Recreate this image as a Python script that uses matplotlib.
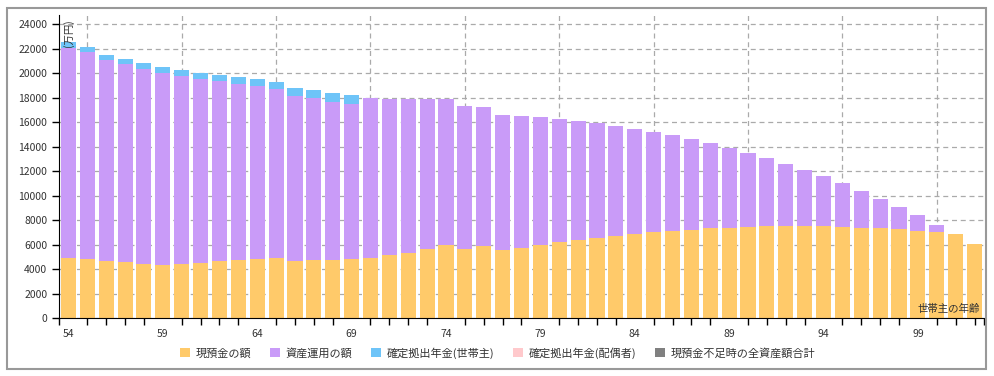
import matplotlib.pyplot as plt
import numpy as np
from matplotlib.patches import Rectangle

plt.rcParams['font.family'] = ['Noto Sans CJK JP', 'DejaVu Sans']

# Data (万円) by age of household head
ages = list(range(54, 103))
cash = [4950, 4870, 4650, 4570, 4460, 4350, 4460, 4540, 4680, 4790,
        4870, 4950, 4710, 4790, 4790, 4840, 4950, 5170, 5360, 5660,
        6010, 5660, 5900, 5580, 5760, 6010, 6230, 6390, 6580, 6720,
        6880, 7050, 7130, 7210, 7370, 7370, 7450, 7540, 7540, 7540,
        7540, 7450, 7370, 7370, 7270, 7130, 7050, 6880, 6070]
invest = [17170, 16870, 16440, 16190, 15870, 15650, 15320, 14990, 14670, 14340,
          14070, 13770, 13470, 13200, 12900, 12650, 13030, 12760, 12580, 12270,
          11890, 11670, 11350, 11020, 10750, 10420, 10040, 9710, 9390, 8980,
          8570, 8160, 7840, 7430, 6940, 6560, 6040, 5550, 5060, 4570,
          4080, 3590, 3020, 2370, 1820, 1310, 570, 0, 0]
dc_head = [410, 410, 410, 410, 510, 510, 490, 490, 490, 570,
           600, 570, 600, 650, 690, 740] + [0] * 33
dc_spouse = [0] * 49
shortfall = [0] * 49

labels = ['現預金の額', '資産運用の額', '確定拠出年金(世帯主)', '確定拠出年金(配偶者)', '現預金不足時の全資産額合計']
colors = ['#FFCA6A', '#C99BF8', '#6EC4F8', '#FFC9CC', '#808080']

x = np.arange(len(ages))
fig = plt.figure(figsize=(9.95, 3.76), dpi=100)
ax = fig.add_axes([59 / 995, 1 - 318.3 / 376, 925 / 995, (318.3 - 14.7) / 376])

bottom = np.zeros(len(ages))
for vals, lab, col in zip([cash, invest, dc_head, dc_spouse, shortfall], labels, colors):
    ax.bar(x, vals, width=0.8, bottom=bottom, color=col, label=lab, zorder=2)
    bottom += np.array(vals)

ax.set_xlim(-0.5, 48.5)
ax.set_ylim(0, 24800)
ax.set_yticks(np.arange(0, 24001, 2000))
ax.set_xticks(x[::5])
ax.set_xticklabels([str(a) for a in ages[::5]])
ax.set_xticks([-0.5] + list(x[1:]) + [48.5], minor=True)
ax.tick_params(axis='x', which='major', length=0, pad=8, labelsize=7.5, labelcolor='#333333')
ax.tick_params(axis='x', which='minor', length=5, width=1)
ax.tick_params(axis='y', length=5, width=1, labelsize=7.5, labelcolor='#333333')

for s in ['top', 'right']:
    ax.spines[s].set_visible(False)

ax.grid(axis='y', linestyle=(0, (4, 3)), color='#aaaaaa', linewidth=0.9, zorder=0)
for gx in x[1::5]:
    ax.axvline(gx, linestyle=(0, (4, 3)), color='#aaaaaa', linewidth=0.9, zorder=0)
ax.set_axisbelow(True)

ax.text(0.004, 0.985, '(万円)', transform=ax.transAxes, rotation=90,
        ha='left', va='top', fontsize=7.5, color='#333333')
ax.text(0.995, 0.015, '世帯主の年齢', transform=ax.transAxes,
        ha='right', va='bottom', fontsize=7.5, color='#333333')

fig.legend(loc='center', bbox_to_anchor=(0.5, 1 - 353 / 376), ncol=5, frameon=False,
           fontsize=8, handlelength=0.9, handleheight=0.9, handletextpad=0.5,
           columnspacing=1.7, labelcolor='#333333')

fig.patches.append(Rectangle((7 / 995, 1 - 369 / 376), 979 / 995, 361 / 376,
                             transform=fig.transFigure, fill=False,
                             edgecolor='#999999', linewidth=1.5))

fig.savefig('out.png', dpi=100)
